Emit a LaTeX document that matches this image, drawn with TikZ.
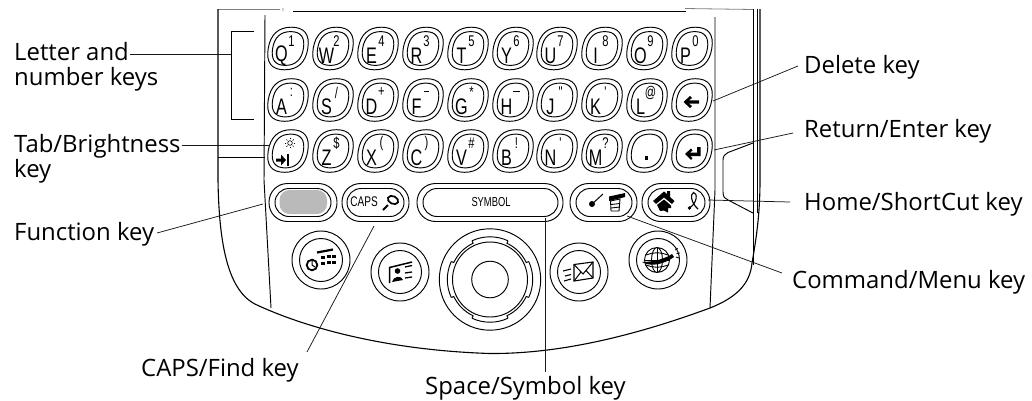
\documentclass[tikz,border=0pt]{standalone}
\usepackage{fontspec}
\setmainfont{Open Sans}
\newfontfamily\keyfont[FakeStretch=0.72]{Liberation Sans}
\newcommand\keypath[3]{\draw[ln,shift={(#1,#2)},xslant=0.16]
 (#3,0) .. controls (#3,{-.66*(#3+1.5)}) and ({.66*#3},{-(#3+1.5)}) .. (0,{-(#3+1.5)})
 .. controls ({-.66*#3},{-(#3+1.5)}) and ({-#3},{-.66*(#3+1.5)}) .. ({-#3},0)
 .. controls ({-#3},{.66*(#3+1.5)}) and ({-.66*#3},{#3+1.5}) .. (0,{#3+1.5})
 .. controls ({.66*#3},{#3+1.5}) and (#3,{.66*(#3+1.5)}) .. (#3,0) -- cycle;}
% name, x, y, letter, superscript
\newcommand\keycap[5]{\keypath{#2}{#3}{19.8}\keypath{#2}{#3}{15.4}
 \node[keyl] (#1L) at (#2-6.5,#3+7) {#4};
 \node[keys] (#1S) at (#2+3.5,#3-7.5) {#5};}
\newcommand\pill[4]{\draw[ln,rounded corners=18.5] (#1,183.5) rectangle (#2,221.5);
 \draw[ln,rounded corners=14] (#3,188.5) rectangle (#4,216.5);}
\begin{document}
\begin{tikzpicture}[x=1pt,y=-1pt,
 ln/.style={line width=.95pt,black},
 conn/.style={line width=.75pt,black!90},
 lab/.style={font=\fontsize{23.9}{23.9}\selectfont,anchor=base west,inner sep=0,text=black},
 keyl/.style={font=\keyfont\fontsize{22.5}{22.5}\selectfont,inner sep=0,text=black},
 keys/.style={font=\keyfont\fontsize{15.5}{15.5}\selectfont,inner sep=0,text=black},
 ico/.style={fill=black,draw=none}]
\useasboundingbox (0,0) rectangle (1032,400);
% device body
\draw[line width=.8pt,black!50] (218,9.5) -- (280,9.5) (283,8) -- (283,11) (685,8.5) -- (753,9.5);
\draw[line width=1.3pt] (293,11.5) -- (686,11.5);
\draw[line width=1.1pt] (218,9) -- (218,180) .. controls (219,245) and (228,292) .. (257,305)
 .. controls (300,325) and (380,350) .. (490,353.5)
 .. controls (570,354) and (650,330) .. (710,308)
 .. controls (735,298) and (750,285) .. (752,263) .. controls (756,240) and (760,215) .. (760,180) -- (760,9);
\draw[ln] (753,9) -- (753,265) (757,9) -- (757,213);
\draw[ln] (265,15) -- (264,180) -- (271,308);
\draw[ln] (715,17) -- (715,190) -- (710,308);
\draw[ln] (218,157) -- (265,157);
\draw[ln] (753,143) -- (728,152.5) .. controls (725,154) and (723,156) .. (723,160) -- (723,192)
 .. controls (723,197) and (725,199) .. (728,200) -- (753,213);
% letter keys
\keycap{kq}{288}{48.5}{Q}{1}
\keycap{kw}{333}{48.5}{W}{2}
\keycap{ke}{378}{48.5}{E}{4}
\keycap{kr}{423}{48.5}{R}{3}
\keycap{kt}{468}{48.5}{T}{5}
\keycap{ky}{513}{48.5}{Y}{6}
\keycap{ku}{557}{48.5}{U}{7}
\keycap{ki}{602}{48.5}{I}{8}
\keycap{ko}{647}{48.5}{O}{9}
\keycap{kp}{692}{48.5}{P}{0}
\keycap{ka}{288}{100}{A}{:}
\keycap{ks}{333}{100}{S}{/}
\keycap{kd}{378}{100}{D}{+}
\keycap{kf}{423}{100}{F}{\rule[2pt]{5.5pt}{1.4pt}}
\keycap{kg}{468}{100}{G}{*}
\keycap{kh}{513}{100}{H}{\rule[2pt]{6.5pt}{.6pt}}
\keycap{kj}{557}{100}{J}{"}
\keycap{kk}{602}{100}{K}{'}
\keycap{kl}{647}{100}{L}{@}
\keycap{kb}{692}{100}{}{}
\keycap{kt2}{288}{151}{}{}
\keycap{kz}{333}{151}{Z}{\$}
\keycap{kx}{378}{151}{X}{(}
\keycap{kc}{423}{151}{C}{)}
\keycap{kv}{468}{151}{V}{\#}
\keycap{kbb}{513}{151}{B}{!}
\keycap{kn}{557}{151}{N}{'}
\keycap{km}{602}{151}{M}{?}
\keycap{kdot}{647}{151}{}{}
\keycap{kret}{692}{151}{}{}
% key glyphs
\fill[ico] (644.5,156) rectangle (648,160);
\fill[ico] (683.5,102) -- (690,96) -- (692,98) -- (689,100.3) -- (699,100.3) -- (699,103.7) -- (689,103.7) -- (692,106) -- (690,108) -- cycle;
\fill[ico] (685,154) -- (691,148.5) -- (692.5,150.5) -- (690,152.5) -- (697,152.5) -- (697,147) -- (700.5,147) -- (700.5,156) -- (690,156) -- (692.5,158) -- (691,160) -- cycle;
\draw[line width=.6pt] (290,143) circle (2.3);
\foreach \a in {0,45,...,315}{\draw[line width=.7pt] (290,143) ++(\a:3.6) -- ++(\a:1.5);}
\fill[ico] (276,158.5) -- (281,158.5) -- (281,154.5) -- (286,160) -- (281,165.5) -- (281,161.5) -- (276,161.5) -- cycle;
\fill[ico] (286.5,154) rectangle (289,166);
% bottom key row
\pill{269}{337}{275}{331}
\fill[black!27,rounded corners=10] (279.5,190) rectangle (327,214);
\pill{342}{409}{347}{404}
\pill{417}{563}{423}{558}
\pill{570}{637}{576}{632}
\pill{642}{710}{648}{705}
\node[font=\keyfont\fontsize{14}{14}\selectfont,inner sep=0] (capst) at (364,202) {CAPS};
\node[font=\keyfont\fontsize{13}{13}\selectfont,inner sep=0] (symt) at (491,202.5) {SYMBOL};
\draw[line width=1.7pt,rotate around={-25:(393,200)}] (393,200) ellipse (5.5 and 3.8);
\draw[line width=2pt] (388,205) -- (383,210);
\fill[ico] (592,204) circle (3);
\draw[line width=1pt] (592,204) -- (603,194);
\fill[ico] (609,196.5) -- (625,193) -- (625,197) -- (609,201) -- cycle;
\draw[line width=.9pt] (610.5,201) -- (620,199) -- (619,211) -- (611,211) -- cycle;
\draw[line width=.9pt] (611,204.5) -- (620,203.5) (611,208) -- (620,207);
\fill[ico] (653,201) -- (664,191.5) -- (667,194) -- (667,191) -- (670,191) -- (670,197) -- (674.5,201) -- (672,204) -- (664,197.5) -- (656,204) -- cycle;
\fill[ico] (657,205) -- (664,199.5) -- (671,205.5) -- (671,208) -- (668,208) -- (668,212.5) -- (664,210.5) -- (660,211) -- cycle;
\draw[line width=1.1pt] (698,209) .. controls (691,203) and (690,194) .. (693.5,192.5) .. controls (698,193) and (697,203) .. (690,207.5);
\fill[ico] (689.5,208) circle (1.9);
% round buttons
\foreach \nm/\cx/\cy in {rclk/321/260,rcard/400/272,rmail/579/272,rweb/658/260}{
 \draw[ln] (\cx,\cy) circle (29) (\cx,\cy) circle (21.5);}
% clock icon
\draw[line width=1.8pt] (312,265) circle (5.3);
\draw[line width=1pt] (312,261) -- (312,265) -- (315,267);
\draw[line width=2.2pt] (317,252.5) -- (333,249.5);
\foreach \px/\py in {321/256,327/255.2,332/254.5,321/262,327/261.2,332/260.5}{\fill[ico] (\px,\py) rectangle ++(3.8,3.2);}
% card icon
\draw[line width=1.5pt] (389.5,283) -- (389.5,267.5) -- (412,262);
\fill[ico] (397.5,271) circle (2.8);
\fill[ico] (392,282) .. controls (393,276) and (402,275) .. (403,280) -- cycle;
\draw[line width=1.3pt] (405,267) -- (412,265.5) (405,273) -- (412,272) (405,278) -- (412,277);
% mail icon
\draw[line width=1.1pt] (574,264.5) -- (593,262) -- (593,278) -- (574,281) -- cycle;
\draw[line width=1pt] (574,264.5) -- (583,274) -- (593,262) (574,281) -- (581,272) (593,278) -- (586,270.5);
\draw[line width=1.1pt] (563,271) -- (571,269) (565,276) -- (571,274.5) (564,281) -- (571,279);
% globe icon
\draw[line width=.9pt] (657,260) circle (12.5) (657,260) ellipse (5.5 and 12.5);
\draw[line width=.9pt] (646,255) .. controls (653,252) and (661,252) .. (668,255) (646,265) .. controls (653,268) and (661,268) .. (668,265);
\draw[line width=.9pt] (657,247.5) -- (657,272.5) (644.5,260) -- (669.5,260);
\fill[ico] (642,262) .. controls (655,262) and (666,258) .. (672,254) -- (674,257) .. controls (666,263) and (652,268) .. (642,262) -- cycle;
\draw[line width=.8pt] (675,250) -- (678,248.5) (676.5,253.5) -- (680,253) (676,257) -- (679,258);
% navigator
\draw[ln] (490,279.5) circle (50.7);
\draw[ln] (490,279.5) circle (37.5);
\draw[ln] (490,279.5) circle (18.3);
\foreach \a in {0,90,180,270}{
 \draw[ln] (490,279.5) ++(\a-25:42.7) arc[start angle=\a-25,end angle=\a+25,radius=42.7];
 \draw[ln] (490,279.5) ++(\a+25:42.7) -- ++(\a+25:-2.7) arc[start angle=\a+25,end angle=\a+65,radius=40] -- ++(\a+65:2.7);
}
% connectors and labels
\node[lab] (l1) at (14,60) {Letter and};
\node[lab] (l1b) at (14,85) {number keys};
\coordinate (b1) at (231,54);
\draw[conn] (l1.east|-b1) ++(1,0) -- (b1);
\draw[ln] (254,31) -- (231,31) -- (231,119) -- (254,119);
\node[lab] (l2) at (14,152) {Tab/Brightness};
\node[lab] (l2b) at (14,177) {key};
\coordinate (e2) at (270,145.5);
\draw[conn] (l2.east|-e2) ++(1,0) -- (e2);
\node[lab] (l3) at (14,240) {Function key};
\coordinate (e3) at (263,204);
\coordinate (s3) at (157,233);
\draw[conn] (s3) -- (e3);
\node[lab] (l4) at (141,376) {CAPS/Find key};
\coordinate (s4) at (307,352);\coordinate (e4) at (374,226);
\draw[conn] (s4) -- (e4);
\node[lab] (l5) at (425,394) {Space/Symbol key};
\coordinate (s5) at (545,372);\coordinate (e5) at (545,218);
\draw[conn] (s5) -- (e5);
\node[lab] (l6) at (792,288) {Command/Menu key};
\coordinate (s6) at (782,273);\coordinate (e6) at (627,216);
\draw[conn] (s6) -- (e6);
\node[lab] (l7) at (804,210) {Home/ShortCut key};
\coordinate (s7) at (790,202);\coordinate (e7) at (708,200);
\draw[conn] (s7) -- (e7);
\node[lab] (l8) at (804,137) {Return/Enter key};
\coordinate (s8) at (793,133);\coordinate (e8) at (714,150);
\draw[conn] (s8) -- (e8);
\node[lab] (l9) at (804,73) {Delete key};
\coordinate (s9) at (798,66);\coordinate (e9) at (713,101);
\draw[conn] (s9) -- (e9);
\end{tikzpicture}
\end{document}
